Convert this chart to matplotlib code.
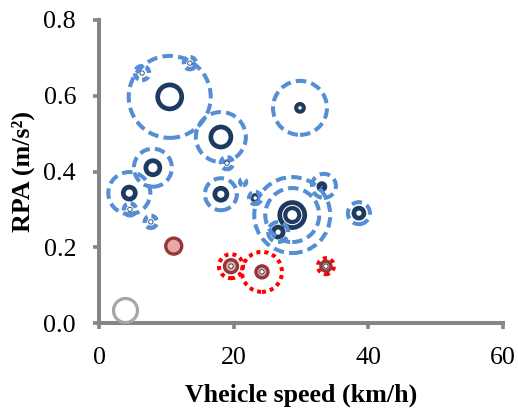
import matplotlib
matplotlib.use("Agg")
import matplotlib.pyplot as plt
import numpy as np

# ---- data ----
# large dashed bubbles (speed km/h, RPA m/s^2, bubble size)
outer_x = [10.5, 29.85, 18.1, 8.0, 4.5, 18.1, 28.7, 28.7, 33.4, 38.6, 26.6]
outer_y = [0.597, 0.568, 0.491, 0.410, 0.343, 0.340, 0.285, 0.285, 0.362, 0.290, 0.240]
outer_size = [41, 27, 25, 19, 21, 16, 38, 27, 12, 11, 10]

# small dashed bubbles
small_x = [6.4, 13.5, 4.6, 7.7, 19.0, 23.2, 21.4]
small_y = [0.660, 0.686, 0.300, 0.267, 0.422, 0.330, 0.372]
small_size = [7, 6, 6, 6, 6, 6, 3]

# solid navy rings
navy_x = [10.5, 18.1, 8.0, 4.5, 18.1, 28.7, 29.85, 38.6, 26.6, 33.1, 23.2]
navy_y = [0.597, 0.491, 0.410, 0.343, 0.340, 0.285, 0.568, 0.290, 0.240, 0.360, 0.330]
navy_size = [12, 10, 7, 6, 6, 12.5, 3.5, 5, 5, 3, 2.5]

navy_core_x = [28.7]
navy_core_y = [0.285]
navy_core_size = [7]

# tiny white points
dot_x = [6.4, 13.5, 4.6, 7.7, 19.0, 23.2, 29.85, 24.2, 19.6, 33.7]
dot_y = [0.660, 0.686, 0.300, 0.267, 0.422, 0.330, 0.568, 0.135, 0.150, 0.150]

# red dotted bubbles
red_x = [24.2, 19.6, 33.7]
red_y = [0.135, 0.150, 0.150]
red_size = [20, 12, 8]

# brown bubbles
brown_x = [11.1, 24.2, 19.6, 33.7]
brown_y = [0.203, 0.135, 0.150, 0.150]
brown_size = [8, 6, 6.5, 5]

# gray bubble
gray_x = [3.9]
gray_y = [0.034]
gray_size = [12]

x_ticks = [0, 20, 40, 60]
y_ticks = [0.0, 0.2, 0.4, 0.6, 0.8]

# ---- style ----
BLUE = "#558ED5"
NAVY = "#1F3A60"
RED = "#FF0000"
BROWN = "#953735"
PINK = "#E6A8A8"
GRAY = "#A6A6A6"
AXC = "#868686"

plt.rcParams['font.family'] = ['Liberation Serif', 'DejaVu Serif']

fig = plt.figure(figsize=(5.18, 4.12), dpi=100)
ax = fig.add_axes([99/518, 89/412, 404/518, 303/412])


def area(sizes):
    # bubble size -> marker area (points^2)
    return [(1.44 * v) ** 2 for v in sizes]


ax.scatter(navy_x, navy_y, s=area(navy_size), facecolors='none', edgecolors=NAVY,
           linewidths=3.4, zorder=2)
ax.scatter(navy_core_x, navy_core_y, s=area(navy_core_size), facecolors='none',
           edgecolors=NAVY, linewidths=3.0, zorder=2)
ax.scatter(outer_x, outer_y, s=area(outer_size), facecolors='none', edgecolors=BLUE,
           linewidths=2.9, linestyles=[(0, (2.6, 1.3))], zorder=3)
ax.scatter(small_x, small_y, s=area(small_size), facecolors='none', edgecolors=BLUE,
           linewidths=3.2, linestyles=[(0, (1.6, 0.9))], zorder=3)
ax.scatter(red_x, red_y, s=area(red_size), facecolors='none', edgecolors=RED,
           linewidths=2.9, linestyles=[(0, (1.0, 1.0))], zorder=3)
ax.scatter(brown_x, brown_y, s=area(brown_size), facecolors=PINK, edgecolors=BROWN,
           linewidths=2.4, zorder=4)
ax.scatter(gray_x, gray_y, s=area(gray_size), facecolors='white', edgecolors=GRAY,
           linewidths=2.3, zorder=4)
ax.scatter(dot_x, dot_y, s=area([2.2] * len(dot_x)), facecolors='white', edgecolors=NAVY,
           linewidths=0.6, zorder=5)

ax.set_xlim(0, 60)
ax.set_ylim(0, 0.8)
ax.set_xticks(x_ticks)
ax.set_yticks(y_ticks)
ax.set_yticklabels([f"{v:.1f}" for v in y_ticks])

for s in ['top', 'right']:
    ax.spines[s].set_visible(False)
for s in ['left', 'bottom']:
    ax.spines[s].set_color(AXC)
    ax.spines[s].set_linewidth(2.9)
    ax.spines[s].set_capstyle('projecting')

ax.tick_params(axis='both', colors=AXC, length=4.5, width=2.6, labelcolor='black',
               labelsize=18.7)
ax.tick_params(axis='y', pad=12)
ax.tick_params(axis='x', pad=13)

ax.set_xlabel("Vheicle speed (km/h)", fontsize=18.7, fontweight='bold', labelpad=10)
ax.set_ylabel("RPA (m/s²)", fontsize=18.7, fontweight='bold', labelpad=6)

fig.savefig("out.png", dpi=100)
